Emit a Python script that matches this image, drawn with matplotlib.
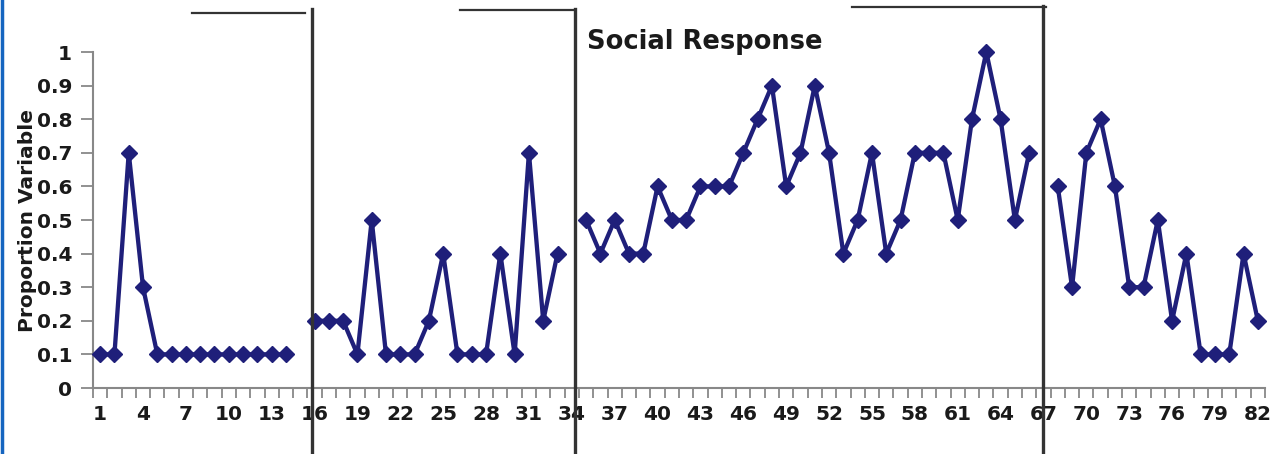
import numpy as np
import matplotlib
matplotlib.use('Agg')
import matplotlib.pyplot as plt
from matplotlib.lines import Line2D

# session number -> proportion variable, one list per phase
phase1_x = list(range(1, 15))
phase1_y = [0.1, 0.1, 0.7, 0.3, 0.1, 0.1, 0.1, 0.1, 0.1, 0.1, 0.1, 0.1, 0.1, 0.1]
phase2_x = list(range(16, 34))
phase2_y = [0.2, 0.2, 0.2, 0.1, 0.5, 0.1, 0.1, 0.1, 0.2, 0.4, 0.1, 0.1, 0.1, 0.4,
            0.1, 0.7, 0.2, 0.4]
phase3_x = list(range(35, 67))
phase3_y = [0.5, 0.4, 0.5, 0.4, 0.4, 0.6, 0.5, 0.5, 0.6, 0.6, 0.6, 0.7, 0.8, 0.9,
            0.6, 0.7, 0.9, 0.7, 0.4, 0.5, 0.7, 0.4, 0.5, 0.7, 0.7, 0.7, 0.5, 0.8,
            1.0, 0.8, 0.5, 0.7]
phase4_x = list(range(68, 83))
phase4_y = [0.6, 0.3, 0.7, 0.8, 0.6, 0.3, 0.3, 0.5, 0.2, 0.4, 0.1, 0.1, 0.1, 0.4, 0.2]

x_ticks = list(range(1, 83, 3))
y_ticks = [0, 0.1, 0.2, 0.3, 0.4, 0.5, 0.6, 0.7, 0.8, 0.9, 1]
y_ticklabels = ['0', '0.1', '0.2', '0.3', '0.4', '0.5', '0.6', '0.7', '0.8', '0.9', '1']

# phase change lines (x in session units) and the cut-off top brackets
phase_lines = [15.8, 34.2, 66.95]
phase_line_top = [1.128, 1.128, 1.136]
bracket_x = [(7.4, 15.3), (26.2, 34.2), (53.6, 67.2)]
bracket_y = [1.117, 1.125, 1.134]

navy = '#1f1f7a'
dark = '#333333'

fig = plt.figure(figsize=(12.77, 4.54), dpi=100)
ax = fig.add_axes([93 / 1277, 66 / 454, 1172 / 1277, 336 / 454])

for xs, ys in [(phase1_x, phase1_y), (phase2_x, phase2_y),
               (phase3_x, phase3_y), (phase4_x, phase4_y)]:
    ax.plot(xs, ys, color=navy, lw=3.1, marker='D', ms=8.2, mec=navy, mfc=navy,
            clip_on=False, zorder=3)

ax.set_xlim(0.5, 82.5)
ax.set_ylim(0, 1)

ax.set_xticks(x_ticks)
ax.set_xticks(np.arange(0.5, 83, 1), minor=True)
ax.tick_params(axis='x', which='major', length=0, pad=12)
ax.tick_params(axis='x', which='minor', length=7, width=1.3, color='#888888', direction='out')
ax.set_yticks(y_ticks)
ax.set_yticklabels(y_ticklabels)
ax.tick_params(axis='y', length=9, width=1.3, color='#888888', pad=6)

for lab in ax.get_xticklabels() + ax.get_yticklabels():
    lab.set_fontweight('bold')
    lab.set_fontsize(14.5)
    lab.set_color('#1a1a1a')

for side in ['top', 'right']:
    ax.spines[side].set_visible(False)
for side in ['left', 'bottom']:
    ax.spines[side].set_color('#888888')
    ax.spines[side].set_linewidth(1.5)

# phase lines drawn past the plot area, like the pasted-in shapes in the original
for xv, top in zip(phase_lines, phase_line_top):
    ax.plot([xv, xv], [-0.2, top], color=dark, lw=2.4, clip_on=False, zorder=4)
for (x0, x1), yv in zip(bracket_x, bracket_y):
    ax.plot([x0, x1], [yv, yv], color=dark, lw=1.6, clip_on=False, zorder=4)

fig.text(587 / 1277, 1 - 42 / 454, 'Social Response', fontsize=18.5, fontweight='bold',
         color='#1a1a1a', ha='left', va='center')
# axis title sits over the tick labels, as in the original chart
fig.text(28 / 1277, 1 - 220 / 454, 'Proportion Variable', fontsize=14.5, fontweight='bold',
         color='#1a1a1a', rotation=90, ha='center', va='center')

# blue frame edge on the left
fig.add_artist(Line2D([1.5 / 1277, 1.5 / 1277], [0, 1], transform=fig.transFigure,
                      color='#1565c0', lw=2.5))

fig.savefig('out.png', dpi=100)
